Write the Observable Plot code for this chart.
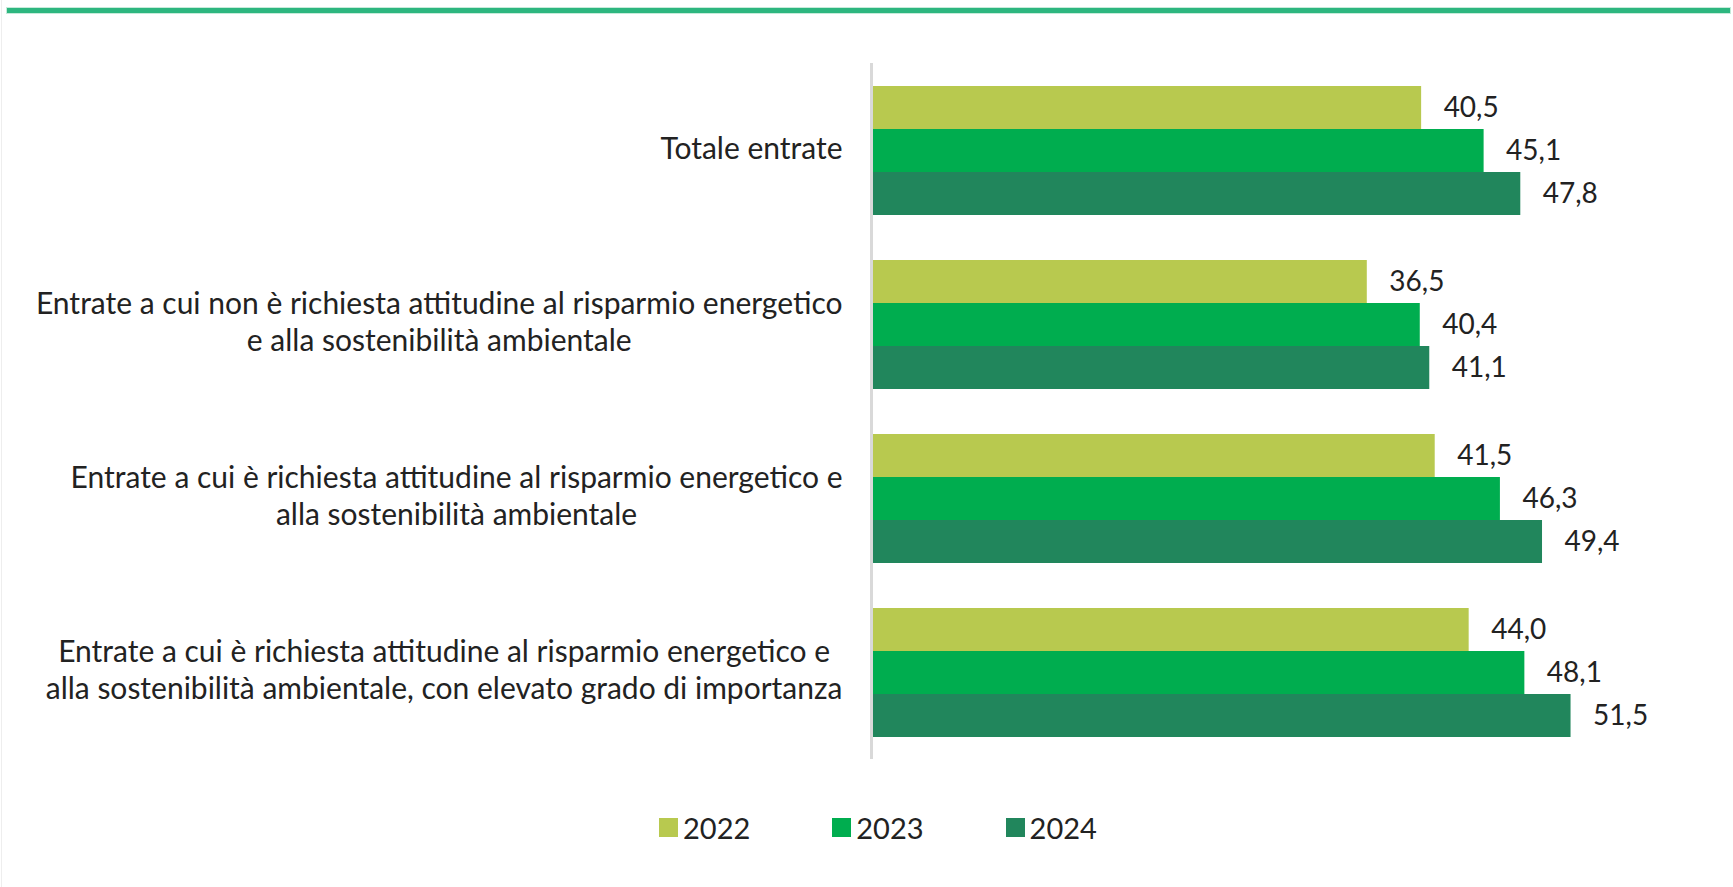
<!DOCTYPE html>
<html><head><meta charset="utf-8">
<script src="https://cdn.jsdelivr.net/npm/d3@7"></script>
<script src="https://cdn.jsdelivr.net/npm/@observablehq/plot@0.6"></script>
<style>
body{margin:0;background:#fff;font-family:Lato,sans-serif;}
#wrap{position:relative;width:1733px;height:887px;overflow:hidden;background:#fff;}
#edge{position:absolute;left:1px;top:0;bottom:0;width:1px;background:#eeeeee;}
#topline{position:absolute;left:7px;right:3px;top:8px;height:5px;background:#2db67f;box-shadow:0 0 0 1px #c6ebda;}
#chart{position:absolute;left:0;top:0;}
#legend{position:absolute;left:659px;top:810px;display:flex;align-items:center;gap:82px;font-size:29px;color:#222;}
#legend .item{display:flex;align-items:center;gap:5px;}
#legend .sw{width:19px;height:19px;display:inline-block;}
</style>
</head><body>
<div id="wrap"><div id="edge"></div><div id="topline"></div><div id="chart"></div><div id="legend"></div></div>
<script>
const categories = [
  "Totale entrate",
  "Entrate a cui non è richiesta attitudine al risparmio energetico\ne alla sostenibilità ambientale",
  "Entrate a cui è richiesta attitudine al risparmio energetico e\nalla sostenibilità ambientale",
  "Entrate a cui è richiesta attitudine al risparmio energetico e\nalla sostenibilità ambientale, con elevato grado di importanza"
];
const years = ["2022", "2023", "2024"];
const values2022 = [40.5, 36.5, 41.5, 44.0];
const values2023 = [45.1, 40.4, 46.3, 48.1];
const values2024 = [47.8, 41.1, 49.4, 51.5];
const colors = ["#b8c94f", "#00ad4f", "#21865c"];

const series = [values2022, values2023, values2024];
const rows = [];
categories.forEach((c, i) => years.forEach((y, j) => rows.push({cat: c, year: y, value: series[j][i]})));
const fmt = v => v.toFixed(1).replace(".", ",");

const chart = Plot.plot({
  width: 1733, height: 780,
  marginTop: 63, marginBottom: 21, marginLeft: 871, marginRight: 47,
  style: {fontFamily: "Lato, sans-serif", fontSize: "28px", color: "#222", background: "transparent"},
  x: {domain: [0, 60], axis: null},
  y: {domain: years, paddingInner: 0, paddingOuter: 0.52, axis: null},
  fy: {domain: categories, padding: 0, axis: null},
  color: {domain: years, range: colors},
  marks: [
    Plot.barX(rows, {fy: "cat", y: "year", x: "value", fill: "year"}),
    Plot.ruleX([0], {stroke: "#d9d9d9", strokeWidth: 3}),
    Plot.text(rows, {fy: "cat", y: "year", x: "value", text: d => fmt(d.value), textAnchor: "start", dx: 22, dy: 0, fill: "#222", fontSize: 28}),
    Plot.text(categories, {fy: d => d, text: d => d, frameAnchor: "left", textAnchor: "end", dx: -29, dy: -4, lineHeight: 1.25, fill: "#222", fontSize: 30})
  ]
});
document.getElementById("chart").appendChild(chart);

// center multi-line labels as a block, right-aligned
chart.querySelectorAll("text").forEach(t => {
  const spans = t.querySelectorAll("tspan");
  if (spans.length > 1) {
    const b = t.getBBox();
    t.setAttribute("text-anchor", "middle");
    spans.forEach(s => s.setAttribute("x", b.x + b.width / 2));
  }
});

const legend = document.getElementById("legend");
years.forEach((y, i) => {
  const it = document.createElement("div");
  it.className = "item";
  const sw = document.createElement("span");
  sw.className = "sw"; sw.style.background = colors[i];
  const lb = document.createElement("span");
  lb.textContent = y;
  it.appendChild(sw); it.appendChild(lb);
  legend.appendChild(it);
});
</script>
</body></html>
